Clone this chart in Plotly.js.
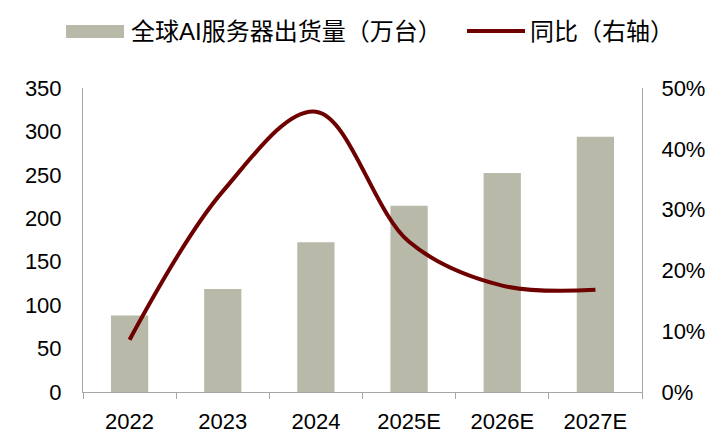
<!DOCTYPE html>
<html>
<head>
<meta charset="utf-8">
<script src="https://cdn.plot.ly/plotly-3.0.1.min.js"></script>
<style>html,body{margin:0;padding:0;background:#fff;}#chart{width:723px;height:444px;}</style>
</head>
<body>
<div id="chart"></div>
<script>
var categories = ["2022", "2023", "2024", "2025E", "2026E", "2027E"];
var shipments = [88, 118.5, 172.5, 214.5, 252, 294];
var yoy = [0.086, 0.33, 0.461, 0.247, 0.175, 0.168];
var barName = "全球AI服务器出货量（万台）";
var lineName = "同比（右轴）";

var FONT = "Liberation Sans, Arial, Noto Sans CJK SC, sans-serif";
var barColor = "#b8b9a8";
var lineColor = "#6e0000";
var axisColor = "#a6a6a6";

var traces = [
  {type: "bar", x: categories, y: shipments, name: barName, marker: {color: barColor},
   showlegend: false, hoverinfo: "skip"},
  {type: "scatter", mode: "lines", x: categories, y: yoy, yaxis: "y2", name: lineName,
   line: {color: lineColor, width: 4, shape: "spline", smoothing: 1}, showlegend: false}
];

// custom legend (paper coordinates)
var legY = 1.1875;
var layout = {
  width: 723, height: 444,
  margin: {l: 83, r: 81, t: 88, b: 52},
  paper_bgcolor: "#fff", plot_bgcolor: "#fff",
  font: {family: FONT, size: 22, color: "#000"},
  bargap: 0.6,
  showlegend: false,
  xaxis: {type: "category", showline: true, linecolor: axisColor, linewidth: 1,
          ticks: "outside", tickson: "boundaries", ticklen: 6, tickcolor: axisColor,
          showgrid: false, zeroline: false, ticklabelstandoff: 10, tickfont: {family: FONT, size: 22}},
  yaxis: {range: [0, 350], dtick: 50, showline: true, linecolor: axisColor, linewidth: 1,
          ticks: "", showgrid: false, zeroline: false, ticklabelstandoff: 16,
          tickfont: {family: FONT, size: 22}},
  yaxis2: {range: [0, 0.5], dtick: 0.1, tickformat: ".0%", overlaying: "y", side: "right",
           showline: true, linecolor: axisColor, linewidth: 1, ticks: "", showgrid: false,
           zeroline: false, ticklabelstandoff: 14, tickfont: {family: FONT, size: 22}},
  shapes: [
    {type: "rect", xref: "paper", yref: "paper", x0: -0.0304, x1: 0.0733, y0: 1.1645, y1: 1.2072,
     fillcolor: barColor, line: {width: 0}},
    {type: "line", xref: "paper", yref: "paper", x0: 0.687, x1: 0.7907, y0: legY, y1: legY,
     line: {color: lineColor, width: 4}}
  ],
  annotations: [
    {xref: "paper", yref: "paper", x: 0.082, y: legY, xanchor: "left", yanchor: "middle",
     text: barName, showarrow: false, font: {family: FONT, size: 24, color: "#000"}},
    {xref: "paper", yref: "paper", x: 0.796, y: legY, xanchor: "left", yanchor: "middle",
     text: lineName, showarrow: false, font: {family: FONT, size: 24, color: "#000"}}
  ]
};

Plotly.newPlot("chart", traces, layout, {displayModeBar: false, staticPlot: true});
</script>
</body>
</html>
